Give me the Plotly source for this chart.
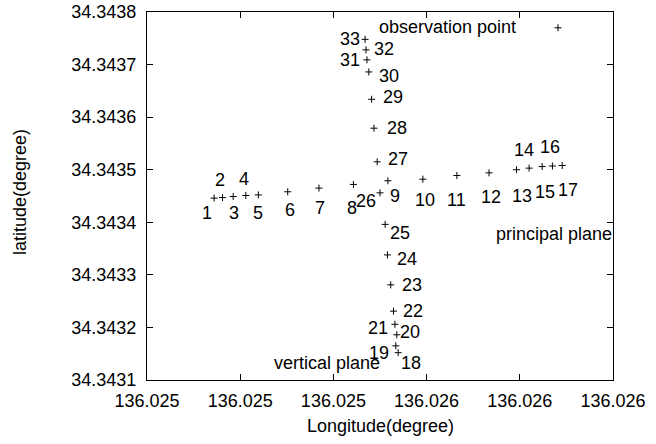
import plotly.graph_objects as go

# Point numbers 1..33
point_ids = list(range(1, 34))
lon = [136.025144, 136.025162, 136.025185, 136.025212, 136.025239, 136.025302,
       136.025369, 136.025443, 136.025517, 136.025592, 136.025665, 136.025734,
       136.025793, 136.025820, 136.025848, 136.025870, 136.025891,
       136.025539, 136.025534, 136.025536, 136.025532, 136.025529, 136.025523,
       136.025516, 136.025511, 136.025500, 136.025494, 136.025487, 136.025482,
       136.025476, 136.025472, 136.025470, 136.025468]
lat = [34.343446, 34.343447, 34.343449, 34.343451, 34.343452, 34.343458,
       34.343465, 34.343472, 34.343479, 34.343482, 34.343489, 34.343494,
       34.343500, 34.343503, 34.343506, 34.343507, 34.343508,
       34.343152, 34.343165, 34.343186, 34.343206, 34.343231, 34.343281,
       34.343338, 34.343396, 34.343456, 34.343515, 34.343579, 34.343634,
       34.343686, 34.343709, 34.343728, 34.343748]

obs_lon = [136.025882]
obs_lat = [34.343770]

x_tickvals = [136.0250, 136.0252, 136.0254, 136.0256, 136.0258, 136.0260]
x_ticktext = ["136.025", "136.025", "136.025", "136.026", "136.026", "136.026"]
y_tickvals = [34.3431, 34.3432, 34.3433, 34.3434, 34.3435, 34.3436, 34.3437, 34.3438]
y_ticktext = ["34.3431", "34.3432", "34.3433", "34.3434", "34.3435", "34.3436", "34.3437", "34.3438"]

# label pixel offsets (dx right, dy down) for each numbered point
label_dx = [-7, -2, 1, -2, 0, 2, 1, -1, 7, 2, 0, 2, 5, -5, 3, -2, 6,
            13, -17, 13, -17, 19, 21, 20, 15, -14, 21, 23, 21, 20, -17, 18, -15]
label_dy = [15, -18, 16, -16, 18, 18, 20, 24, 15, 21, 24, 24, 26, -18, 25, -19, 24,
            10, 7, -3, 4, 0, 0, 4, 9, 8, -3, 0, -2, 4, 0, -1, 0]

FONT = "Liberation Sans, Arial, sans-serif"
FS = 18

fig = go.Figure()
fig.add_trace(go.Scatter(
    x=lon + obs_lon, y=lat + obs_lat, mode="markers",
    marker=dict(symbol="cross-thin", size=5, line=dict(color="black", width=1), color="black"),
    showlegend=False, hoverinfo="x+y"))

annotations = []
for i, pid in enumerate(point_ids):
    annotations.append(dict(x=lon[i], y=lat[i], text=str(pid), showarrow=False,
                            xanchor="center", yanchor="middle",
                            xshift=label_dx[i], yshift=-label_dy[i],
                            font=dict(family=FONT, size=FS, color="black")))
annotations.append(dict(x=obs_lon[0], y=obs_lat[0], text="observation point", showarrow=False,
                        xanchor="right", yanchor="middle", xshift=-40, yshift=1,
                        font=dict(family=FONT, size=FS, color="black")))
annotations.append(dict(x=136.025745, y=34.343378, text="principal plane", showarrow=False,
                        xanchor="left", yanchor="middle",
                        font=dict(family=FONT, size=FS, color="black")))
annotations.append(dict(x=136.025504, y=34.343132, text="vertical plane", showarrow=False,
                        xanchor="right", yanchor="middle",
                        font=dict(family=FONT, size=FS, color="black")))
# axis titles
annotations.append(dict(x=0.5, y=-64 / 368, xref="paper", yref="paper", yanchor="bottom",
                        text="Longitude(degree)", showarrow=False, yshift=6,
                        font=dict(family=FONT, size=FS, color="black")))
annotations.append(dict(x=-127 / 466, y=0.5, xref="paper", yref="paper", xanchor="center",
                        text="latitude(degree)", showarrow=False, textangle=-90, yshift=4,
                        font=dict(family=FONT, size=FS, color="black")))

axis_common = dict(showline=True, linecolor="black", linewidth=1, mirror="ticks",
                   ticks="inside", ticklen=6, tickcolor="black", showgrid=False,
                   zeroline=False, automargin=False,
                   tickfont=dict(family=FONT, size=FS, color="black"))

fig.update_layout(
    width=656, height=444,
    margin=dict(l=147, r=43, t=12, b=64),
    plot_bgcolor="white", paper_bgcolor="white",
    annotations=annotations,
    xaxis=dict(range=[136.0250, 136.0260], tickvals=x_tickvals, ticktext=x_ticktext,
               ticklabelstandoff=4, ticklabeloverflow="allow", **axis_common),
    yaxis=dict(range=[34.3431, 34.3438], tickvals=y_tickvals, ticktext=y_ticktext,
               ticklabelstandoff=6, ticklabeloverflow="allow", **axis_common),
)

fig.write_html("out.html", config={"displayModeBar": False},
               post_script="document.body.style.margin='0';")
